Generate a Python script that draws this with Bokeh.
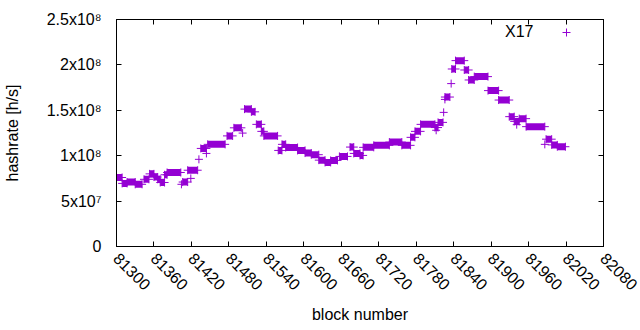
import math
from bokeh.plotting import figure
from bokeh.models import (Range1d, FixedTicker, LinearAxis, Legend, LegendItem, ColumnDataSource,
                          Label, CustomLabelingPolicy)
from bokeh.embed import file_html
from bokeh.resources import INLINE

# ---- data ----
run_start = [81300, 81309, 81317, 81330, 81344, 81353, 81360, 81366, 81370, 81377,
             81381, 81406, 81414, 81435, 81446, 81477, 81488, 81505, 81516, 81524,
             81532, 81536, 81559, 81565, 81571, 81590, 81602, 81612, 81624, 81634,
             81643, 81657, 81674, 81680, 81690, 81695, 81712, 81737, 81757, 81771,
             81778, 81787, 81810, 81815, 81826, 81837, 81843, 81857, 81864, 81873,
             81895, 81912, 81929, 81937, 81945, 81956, 81988, 81997, 82006]
run_end = [81309, 81317, 81330, 81341, 81352, 81360, 81366, 81370, 81377, 81381,
           81403, 81414, 81430, 81444, 81474, 81486, 81500, 81516, 81522, 81532,
           81536, 81558, 81565, 81571, 81590, 81602, 81612, 81624, 81634, 81643,
           81654, 81670, 81680, 81690, 81695, 81712, 81737, 81757, 81771, 81778,
           81787, 81810, 81815, 81823, 81834, 81843, 81857, 81864, 81873, 81895,
           81912, 81929, 81937, 81945, 81956, 81986, 81997, 82006, 82019]
run_hashrate = [7.6e7, 6.95e7, 7.1e7, 6.85e7, 7.4e7, 8.0e7, 7.65e7, 7.4e7, 7.05e7, 7.9e7,
                8.15e7, 7.1e7, 8.4e7, 1.08e8, 1.125e8, 1.218e8, 1.307e8, 1.513e8, 1.483e8, 1.345e8,
                1.268e8, 1.218e8, 1.058e8, 1.125e8, 1.09e8, 1.058e8, 1.029e8, 1.011e8, 9.51e7, 9.26e7,
                9.48e7, 9.92e7, 1.095e8, 1.025e8, 1.003e8, 1.092e8, 1.114e8, 1.15e8, 1.114e8, 1.202e8,
                1.268e8, 1.345e8, 1.31e8, 1.367e8, 1.646e8, 1.955e8, 2.047e8, 1.944e8, 1.834e8, 1.871e8,
                1.717e8, 1.613e8, 1.43e8, 1.378e8, 1.408e8, 1.32e8, 1.182e8, 1.119e8, 1.099e8]

single_block = [81404, 81419, 81432, 81444, 81502, 81812, 81824, 81826, 81836, 81941, 81986]
single_hashrate = [6.85e7, 7.5e7, 9.6e7, 1.025e8, 1.249e8, 1.28e8, 1.477e8, 1.62e8, 1.794e8, 1.342e8, 1.125e8]

x_ticks = [81300, 81360, 81420, 81480, 81540, 81600, 81660, 81720, 81780, 81840,
           81900, 81960, 82020, 82080]
y_ticks = [0, 5e7, 1e8, 1.5e8, 2e8, 2.5e8]
y_tick_labels = ["0", "5x10\u2077", "1x10\u2078", "1.5x10\u2078", "2x10\u2078", "2.5x10\u2078"]
series_name = "X17"

# ---- style ----
COLOR = "#9400D3"
FONT = "Liberation Sans"
FS = "16px"

p = figure(width=640, height=330, output_backend="svg", toolbar_location=None,
           x_range=Range1d(81300, 82080), y_range=Range1d(0, 2.5e8),
           min_border_left=114, min_border_right=28, min_border_top=19, min_border_bottom=84)
p.outline_line_color = "black"
p.outline_line_width = 1
p.xgrid.visible = False
p.ygrid.visible = False
p.background_fill_color = "white"
p.border_fill_color = "white"

# runs of equal values (dense '+' markers form solid bars)
src = ColumnDataSource(dict(
    xc=[(a + b) / 2 for a, b in zip(run_start, run_end)],
    w=[b - a for a, b in zip(run_start, run_end)],
    y=run_hashrate))
p.rect(x="xc", y="y", width="w", height=7, height_units="screen", source=src,
       fill_color=COLOR, line_color=None)
r_main = p.scatter(run_start + run_end + single_block,
                   run_hashrate + run_hashrate + single_hashrate,
                   marker="cross", size=8, line_color=COLOR, line_width=1)

# axes
xa = p.xaxis[0]
ya = p.yaxis[0]
xa.ticker = FixedTicker(ticks=x_ticks)
ya.ticker = FixedTicker(ticks=y_ticks)
ya.major_label_overrides = {t: l for t, l in zip(y_ticks, y_tick_labels)}
xa.major_label_orientation = -math.pi / 4
for ax in (xa, ya):
    ax.major_tick_in = 5
    ax.major_tick_out = 0
    ax.minor_tick_line_color = None
    ax.axis_line_color = "black"
    ax.major_tick_line_color = "black"
    ax.major_label_text_font = FONT
    ax.major_label_text_font_size = FS
    ax.major_label_text_color = "black"
    ax.axis_label_text_font = FONT
    ax.axis_label_text_font_size = FS
    ax.axis_label_text_font_style = "normal"
    ax.axis_label_text_color = "black"
xa.axis_label = "block number"
ya.axis_label = "hashrate [h/s]"
ya.major_label_standoff = 15
ya.axis_label_standoff = 23
xa.major_label_standoff = 9
xa.axis_label_standoff = 8

# mirrored ticks on top and right (no labels)
no_labels = CustomLabelingPolicy(code="""
try { for (let i = 0; i < indices.size; i++) indices.unset(i) } catch (e) {}
return indices
""")
for loc in ("above", "right"):
    ax = LinearAxis(ticker=FixedTicker(ticks=x_ticks if loc == "above" else y_ticks),
                    major_tick_in=5, major_tick_out=0, minor_tick_line_color=None,
                    major_label_policy=no_labels, major_label_standoff=0,
                    major_label_text_font_size="8px",
                    axis_line_color="black")
    p.add_layout(ax, loc)

# key: text right-aligned, sample to its right (as in the reference)
legend = Legend(items=[LegendItem(label=" ", renderers=[r_main])],
                location=(440, 204), glyph_width=20, glyph_height=20,
                padding=0, margin=0, spacing=0, border_line_color=None,
                background_fill_alpha=0, label_text_font=FONT, label_text_font_size=FS,
                label_height=20, label_width=1)
p.add_layout(legend)
p.add_layout(Label(x=417, y=215, x_units="screen", y_units="screen", text=series_name,
                   text_align="right", text_baseline="middle", text_font=FONT,
                   text_font_size=FS, text_color="black"))

open("out.html", "w").write(file_html(p, INLINE))
